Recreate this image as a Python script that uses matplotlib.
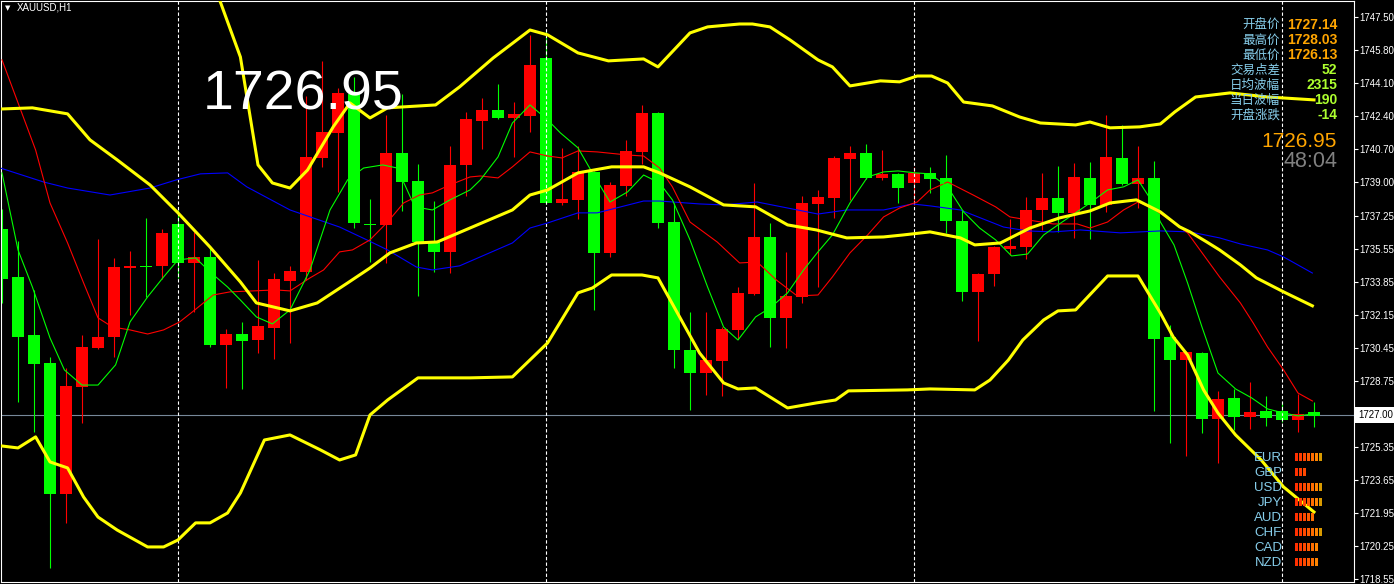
import matplotlib.pyplot as plt
import numpy as np

plt.rcParams['font.family'] = ['Liberation Sans', 'Noto Sans CJK SC', 'DejaVu Sans']

# Hourly XAUUSD candles, oldest first
opens = [1736.58, 1734.11, 1731.12, 1729.68, 1722.93, 1728.44, 1730.45, 1731.02, 1734.57, 1734.68,
         1734.68, 1736.84, 1734.83, 1735.14, 1730.61, 1731.17, 1730.86, 1731.48, 1733.90, 1734.37,
         1740.24, 1741.53, 1743.54, 1736.84, 1736.79, 1740.50, 1739.05, 1735.91, 1735.40, 1739.88,
         1742.15, 1742.71, 1742.30, 1742.40, 1745.39, 1737.92, 1738.08, 1739.52, 1735.35, 1738.80,
         1740.55, 1742.56, 1736.94, 1730.35, 1729.16, 1729.78, 1731.38, 1733.23, 1736.17, 1732.00,
         1733.08, 1737.87, 1738.18, 1740.19, 1740.50, 1739.21, 1739.42, 1738.95, 1739.47, 1739.21,
         1736.99, 1733.34, 1734.26, 1735.55, 1735.66, 1737.56, 1738.18, 1737.41, 1739.21, 1737.82,
         1740.24, 1738.90, 1739.21, 1731.02, 1729.83, 1730.19, 1726.79, 1727.88, 1726.90, 1727.21,
         1727.21, 1726.74, 1727.14]
highs = [1737.61, 1735.96, 1733.44, 1729.99, 1729.42, 1731.12, 1736.07, 1735.09, 1735.45, 1737.15,
         1736.58, 1737.56, 1736.43, 1735.66, 1731.43, 1731.79, 1734.99, 1734.31, 1734.68, 1743.43,
         1745.24, 1743.85, 1744.41, 1738.13, 1742.46, 1743.54, 1739.93, 1738.02, 1740.86, 1742.61,
         1743.33, 1744.05, 1743.12, 1746.58, 1746.83, 1740.76, 1740.86, 1739.57, 1739.00, 1741.17,
         1742.97, 1742.61, 1737.92, 1732.31, 1732.31, 1731.53, 1733.59, 1738.95, 1736.89, 1735.40,
         1738.28, 1738.59, 1740.34, 1740.86, 1740.96, 1740.65, 1739.47, 1739.78, 1739.78, 1740.39,
         1737.56, 1734.31, 1735.71, 1737.10, 1738.23, 1739.47, 1739.83, 1739.98, 1740.03, 1742.46,
         1741.94, 1740.86, 1740.09, 1731.64, 1730.30, 1730.24, 1728.24, 1728.34, 1728.70, 1727.98,
         1727.67, 1728.08, 1727.67]
lows = [1732.77, 1727.67, 1726.12, 1719.12, 1721.44, 1726.59, 1730.40, 1729.99, 1732.15, 1733.08,
        1734.01, 1734.06, 1732.31, 1730.50, 1728.39, 1728.34, 1730.19, 1729.88, 1730.71, 1733.95,
        1739.78, 1738.49, 1736.63, 1734.88, 1734.83, 1737.51, 1733.13, 1734.37, 1734.31, 1738.28,
        1740.70, 1742.25, 1740.29, 1741.58, 1737.87, 1737.82, 1737.10, 1732.41, 1735.14, 1738.28,
        1739.93, 1736.63, 1729.42, 1727.26, 1728.03, 1727.98, 1730.91, 1733.18, 1730.50, 1730.45,
        1732.77, 1733.59, 1737.15, 1738.08, 1739.16, 1739.11, 1737.92, 1737.82, 1738.44, 1736.38,
        1732.87, 1730.81, 1733.65, 1735.24, 1735.04, 1736.53, 1736.43, 1736.12, 1736.07, 1737.46,
        1738.85, 1737.66, 1727.21, 1725.56, 1724.89, 1726.07, 1724.53, 1726.23, 1726.28, 1726.43,
        1726.64, 1726.12, 1726.38]
closes = [1734.01, 1731.02, 1729.63, 1722.93, 1728.49, 1730.50, 1731.02, 1734.62, 1734.68, 1734.62,
          1736.38, 1734.83, 1735.14, 1730.61, 1731.17, 1730.81, 1731.58, 1734.01, 1734.42, 1740.29,
          1741.58, 1743.59, 1736.89, 1736.79, 1740.50, 1739.00, 1735.91, 1735.40, 1739.88, 1742.25,
          1742.71, 1742.30, 1742.51, 1745.03, 1737.92, 1738.13, 1739.52, 1735.35, 1738.85, 1740.60,
          1742.56, 1736.89, 1730.35, 1729.16, 1729.83, 1731.43, 1733.29, 1736.17, 1732.00, 1733.13,
          1737.92, 1738.23, 1740.24, 1740.50, 1739.21, 1739.42, 1738.69, 1739.47, 1739.16, 1736.99,
          1733.34, 1734.26, 1735.66, 1735.71, 1737.56, 1738.18, 1737.41, 1739.26, 1737.82, 1740.29,
          1738.90, 1739.21, 1730.91, 1729.83, 1730.24, 1726.79, 1727.82, 1726.90, 1727.15, 1726.84,
          1726.74, 1727.05, 1726.95]

# Bollinger bands, read as (bar index, price) points
upper_idx = [13.0, 13.6, 14.9, 16.0, 16.9, 18.0, 19.1, 20.7, 21.75, 23.0, 24.1, 27.1, 28.6, 30.7, 33.0, 34.1,
             36.0, 37.9, 40.1, 41.0, 43.0, 44.1, 46.1, 46.9, 48.0, 49.25, 51.0, 51.9, 53.0, 54.9, 56.1, 57.2,
             58.1, 59.1, 60.1, 61.9, 63.6, 64.9, 67.1, 68.0, 69.25, 71.1, 72.4, 73.3, 74.6, 76.75, 79.1, 82.0]
upper_val = [1749.82, 1748.38, 1745.44, 1739.88, 1738.95, 1738.69, 1739.62, 1741.84, 1743.07, 1742.30, 1742.82,
             1742.97, 1743.90, 1745.39, 1746.83, 1746.58, 1745.65, 1745.24, 1745.34, 1744.93, 1746.68, 1746.99,
             1747.14, 1747.14, 1746.99, 1746.32, 1745.29, 1744.93, 1743.95, 1744.21, 1744.16, 1744.46, 1744.46,
             1744.10, 1743.12, 1742.92, 1742.35, 1742.04, 1741.94, 1742.09, 1741.79, 1741.84, 1741.99, 1742.61,
             1743.38, 1743.59, 1743.38, 1743.23]
mid_idx = [-0.1, 1.9, 4.1, 5.5, 7.2, 9.25, 11.0, 13.0, 14.9, 15.9, 18.0, 19.7, 21.6, 23.0, 24.25, 25.9, 27.2,
           29.25, 31.9, 33.0, 34.1, 36.0, 38.1, 40.1, 41.1, 43.0, 45.1, 47.1, 49.1, 50.9, 52.8, 55.1, 56.3, 58.0,
           59.9, 60.8, 62.4, 64.25, 66.1, 68.0, 69.25, 70.9, 72.4, 73.6, 74.25, 75.3, 76.1, 77.4, 78.4, 80.1, 81.9]
mid_val = [1742.76, 1742.82, 1742.51, 1741.17, 1740.14, 1738.85, 1737.41, 1735.65, 1733.85, 1732.77, 1732.36,
           1732.77, 1733.80, 1734.57, 1735.35, 1735.86, 1735.91, 1736.63, 1737.56, 1738.33, 1738.59, 1739.47,
           1739.78, 1739.78, 1739.47, 1738.75, 1737.82, 1737.72, 1736.79, 1736.53, 1736.12, 1736.17, 1736.27,
           1736.43, 1736.12, 1735.76, 1735.86, 1736.63, 1737.15, 1737.51, 1737.92, 1738.08, 1737.46, 1736.69,
           1736.43, 1735.91, 1735.50, 1734.73, 1734.06, 1733.34, 1732.62]
low_idx = [0.0, 1.0, 2.1, 3.0, 4.1, 5.1, 6.0, 7.2, 9.1, 10.1, 11.0, 12.1, 13.0, 14.1, 14.9, 16.4, 18.0, 19.9,
           21.1, 22.1, 23.0, 24.1, 26.0, 29.25, 31.9, 34.1, 36.0, 36.9, 38.1, 40.0, 41.0, 43.6, 45.1, 46.0, 47.1,
           49.1, 50.9, 52.1, 52.9, 56.6, 58.0, 60.8, 61.75, 62.9, 63.8, 65.1, 66.0, 67.1, 69.1, 71.0, 72.4, 73.2,
           74.1, 75.1, 76.0, 77.1, 78.7, 80.1, 82.0]
low_val = [1725.40, 1725.30, 1725.87, 1724.58, 1724.27, 1722.77, 1721.74, 1721.07, 1720.20, 1720.20, 1720.56,
           1721.44, 1721.44, 1721.95, 1722.98, 1725.71, 1725.97, 1725.20, 1724.68, 1724.94, 1727.00, 1727.77,
           1728.91, 1728.91, 1728.96, 1730.71, 1733.29, 1733.54, 1734.21, 1734.21, 1734.06, 1730.19, 1728.65,
           1728.34, 1728.39, 1727.36, 1727.62, 1727.77, 1728.24, 1728.29, 1728.34, 1728.29, 1728.80, 1729.83,
           1730.86, 1731.89, 1732.36, 1732.41, 1734.16, 1734.16, 1732.25, 1731.02, 1730.09, 1728.29, 1727.10,
           1725.97, 1724.68, 1723.29, 1722.00]

# moving averages (slow blue, medium red, fast green)
blue_idx = [-0.1, 2.6, 4.1, 6.75, 9.25, 10.9, 12.4, 14.1, 15.3, 18.0, 21.1, 22.8, 24.1, 25.9, 26.9, 28.6, 31.9,
            33.0, 34.1, 36.0, 37.2, 40.1, 41.1, 43.6, 45.1, 47.2, 49.1, 51.0, 52.8, 55.1, 56.9, 58.0, 59.9, 62.6,
            64.1, 65.7, 67.4, 69.9, 72.4, 74.25, 76.1, 77.4, 79.1, 80.1, 81.9]
blue_val = [1739.72, 1739.00, 1738.69, 1738.33, 1738.69, 1739.11, 1739.42, 1739.47, 1738.75, 1737.56, 1736.68,
            1736.02, 1735.50, 1734.62, 1734.47, 1734.68, 1735.86, 1736.63, 1736.89, 1737.41, 1737.41, 1738.02,
            1738.02, 1737.87, 1737.82, 1737.97, 1737.66, 1737.35, 1737.56, 1737.56, 1737.87, 1737.77, 1737.56,
            1736.68, 1736.48, 1736.43, 1736.53, 1736.38, 1736.48, 1736.43, 1736.12, 1735.81, 1735.50, 1735.14,
            1734.31]
red_idx = [0.0, 2.1, 3.0, 4.1, 5.1, 6.0, 6.9, 8.0, 9.1, 10.1, 11.1, 11.9, 13.2, 14.25, 17.1, 18.0, 19.25, 20.1,
           21.1, 21.9, 23.0, 24.1, 25.1, 26.1, 26.9, 28.0, 29.25, 29.9, 31.0, 31.9, 33.0, 34.1, 35.0, 36.0, 37.2,
           39.1, 40.1, 41.1, 41.9, 43.0, 44.7, 46.1, 47.2, 48.4, 49.7, 51.0, 51.9, 53.0, 54.1, 55.1, 56.1, 57.2,
           58.0, 59.1, 60.7, 62.1, 63.0, 64.1, 65.7, 67.2, 68.0, 69.1, 70.1, 71.0, 71.9, 72.8, 74.1, 76.1, 77.4,
           78.2, 79.1, 80.1, 81.0, 81.9]
red_val = [1745.29, 1740.65, 1737.92, 1735.86, 1733.80, 1732.00, 1731.53, 1731.38, 1731.17, 1731.38, 1731.79,
           1732.31, 1733.18, 1733.34, 1733.44, 1733.39, 1734.06, 1734.47, 1735.40, 1735.50, 1736.02, 1736.94,
           1737.92, 1738.33, 1738.44, 1738.85, 1739.26, 1739.31, 1739.21, 1739.78, 1740.55, 1740.34, 1740.24,
           1740.60, 1740.55, 1740.39, 1740.34, 1739.72, 1738.75, 1736.94, 1735.91, 1734.83, 1734.88, 1733.95,
           1733.13, 1733.18, 1734.11, 1735.35, 1736.27, 1737.20, 1737.66, 1737.97, 1738.59, 1739.00, 1738.33,
           1737.72, 1737.20, 1737.05, 1736.84, 1736.84, 1736.63, 1736.94, 1737.56, 1737.97, 1737.66, 1737.15,
           1736.38, 1734.11, 1732.77, 1731.74, 1730.50, 1729.32, 1728.13, 1727.72]
grn_idx = [0.0, 1.0, 1.9, 3.0, 3.9, 5.0, 6.0, 7.1, 8.0, 9.1, 10.1, 11.0, 12.1, 13.0, 14.1, 14.9, 15.9, 16.9, 18.0,
           19.25, 20.5, 21.6, 22.6, 23.8, 24.7, 25.8, 26.9, 28.0, 29.25, 29.9, 31.0, 31.9, 33.0, 34.1, 34.9, 36.0,
           36.9, 38.0, 39.1, 40.1, 41.1, 41.9, 43.0, 44.1, 45.1, 46.0, 47.1, 48.0, 49.1, 50.1, 51.0, 51.9, 53.0,
           54.1, 55.1, 56.0, 57.1, 58.0, 59.1, 60.1, 61.1, 62.1, 63.1, 64.1, 65.1, 66.0, 67.1, 68.0, 69.1, 70.1,
           71.0, 71.9, 72.4, 73.25, 74.1, 75.0, 76.0, 77.1, 78.1, 79.1, 80.1, 81.0, 81.9]
grn_val = [1739.47, 1735.50, 1733.59, 1730.97, 1729.32, 1728.54, 1728.54, 1729.58, 1731.79, 1733.08, 1734.11,
           1734.99, 1735.09, 1734.37, 1733.59, 1732.92, 1732.05, 1731.69, 1732.41, 1734.47, 1737.56, 1739.11,
           1739.72, 1739.88, 1739.72, 1737.72, 1737.56, 1738.08, 1738.59, 1739.11, 1740.29, 1742.04, 1742.97,
           1742.20, 1741.53, 1740.76, 1739.47, 1737.97, 1738.49, 1739.36, 1738.95, 1738.08, 1736.02, 1733.59,
           1731.53, 1730.86, 1732.05, 1732.51, 1733.29, 1734.47, 1735.40, 1736.27, 1737.92, 1739.26, 1739.52,
           1739.57, 1739.47, 1739.42, 1738.75, 1737.46, 1736.63, 1736.02, 1735.19, 1735.29, 1736.27, 1736.79,
           1737.41, 1737.92, 1738.59, 1738.75, 1739.11, 1737.97, 1736.94, 1735.76, 1733.80, 1731.53, 1729.16,
           1728.34, 1727.88, 1727.31, 1727.10, 1726.95, 1727.05]

day_starts = [11, 34, 57, 80]
bid = 1727.00
price_ticks = [1747.50, 1745.80, 1744.10, 1742.40, 1740.70, 1739.00, 1737.25, 1735.55, 1733.85,
               1732.15, 1730.45, 1728.75, 1725.35, 1723.65, 1721.95, 1720.25, 1718.55]

info_labels = ['开盘价', '最高价', '最低价', '交易点差', '日均波幅', '当日波幅', '开盘涨跌']
info_values = ['1727.14', '1728.03', '1726.13', '52', '2315', '190', '-14']
last_price = '1726.95'
countdown = '48:04'

currencies = ['EUR', 'GBP', 'USD', 'JPY', 'AUD', 'CHF', 'CAD', 'NZD']
strength = [7, 3, 7, 7, 5, 7, 6, 6]

W, H = 1394, 584
fig = plt.figure(figsize=(W / 100, H / 100), dpi=100, facecolor='black')
ax = fig.add_axes([0.5 / W, 2.5 / H, 1353 / W, 581 / H], facecolor='black')


def fx(px):
    return px / W


def fy(py):
    return 1 - py / H


# candles: red = up, green = down
idx = np.arange(len(opens))
o, hi, lo, c = map(np.array, (opens, highs, lows, closes))
cols = np.where(c > o, '#ff0000', '#00ff00')
ax.vlines(idx, lo, hi, colors=cols, linewidth=0.8, zorder=2)
ax.bar(idx, np.maximum(np.abs(c - o), 0.05), bottom=np.minimum(o, c), width=0.7,
       color=cols, linewidth=0, zorder=2)

for d in day_starts:
    ax.axvline(d, color='white', lw=0.8, ls=(0, (3, 2)), zorder=2.5)
ax.axhline(bid, color='#778899', lw=0.8, zorder=1.5)

ax.plot(blue_idx, blue_val, color='#0000ff', lw=0.8, zorder=3)
ax.plot(red_idx, red_val, color='#ff0000', lw=0.8, zorder=3)
ax.plot(grn_idx, grn_val, color='#00ff00', lw=0.8, zorder=3)
for xs, ys in [(upper_idx, upper_val), (mid_idx, mid_val), (low_idx, low_val)]:
    ax.plot(xs, ys, color='#ffff00', lw=2.2, zorder=4)

ax.set_xlim(-0.094, 84.47)
ax.set_ylim(1718.42, 1748.35)
for s in ax.spines.values():
    s.set_color('white')
    s.set_linewidth(0.8)
ax.set_xticks([])
ax.yaxis.tick_right()
ax.set_yticks(price_ticks)
ax.set_yticklabels([f'{v:.2f}' for v in price_ticks])
ax.tick_params(axis='y', colors='white', labelcolor='white', length=3, width=0.8,
               labelsize=7, pad=1.5)
ax.text(1.0035, bid, f'{bid:.2f}', transform=ax.get_yaxis_transform(), ha='left', va='center',
        fontsize=7, color='black', clip_on=False,
        bbox=dict(facecolor='white', edgecolor='none', boxstyle='square,pad=0.3'))

# header and overlays
fig.text(fx(5), fy(8), '▼', fontsize=5, color='white', va='center', family='DejaVu Sans')
fig.text(fx(17), fy(8), 'XAUUSD,H1', fontsize=7, color='white', va='center')
fig.text(fx(203), fy(110), last_price, fontsize=40, color='white', ha='left', va='baseline')

for k, (lab, val) in enumerate(zip(info_labels, info_values)):
    yb = 29 + 15 * k
    fig.text(fx(1280), fy(yb), lab, ha='right', va='baseline', fontsize=9, color='#87ceeb',
             family=['Noto Sans CJK SC', 'DejaVu Sans'])
    fig.text(fx(1337), fy(yb), val, ha='right', va='baseline', fontsize=10, fontweight='bold',
             color='#ffa500' if k < 3 else '#adff2f')
fig.text(fx(1337), fy(147), last_price, ha='right', va='baseline', fontsize=15, color='#ffa500')
fig.text(fx(1337), fy(167), countdown, ha='right', va='baseline', fontsize=15.5, color='#808080')

# currency strength blocks
sp = fig.add_axes([fx(1294.5), fy(569.5), 28 / W, 120 / H])
sp.set_xlim(-0.5, 6.5)
sp.set_ylim(7.5, -0.5)
sp.axis('off')
block_cols = ['#ff3000', '#ff3c00', '#ff4800', '#ff5a00', '#ff6e00', '#ff8400', '#d89a00']
for r, (cur, n) in enumerate(zip(currencies, strength)):
    sp.bar(np.arange(n), 0.47, bottom=r - 0.235, width=0.6, color=block_cols[:n], linewidth=0)
    sp.text(-3.6, r + 0.27, cur, ha='right', va='baseline', fontsize=9.5, color='#87ceeb',
            clip_on=False)

fig.savefig('out.png', dpi=100, facecolor='black')
